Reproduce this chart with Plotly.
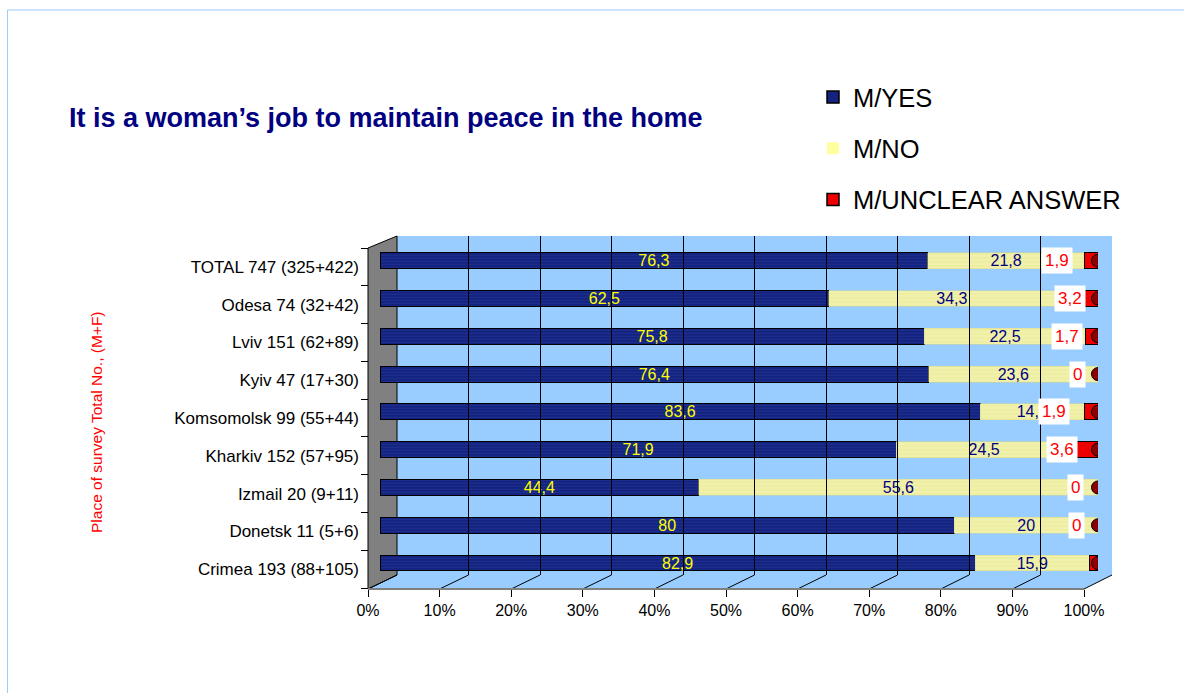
import plotly.graph_objects as go

# ---------------- data ----------------
categories = ["TOTAL 747 (325+422)", "Odesa 74 (32+42)", "Lviv 151 (62+89)",
              "Kyiv 47 (17+30)", "Komsomolsk 99 (55+44)", "Kharkiv 152 (57+95)",
              "Izmail 20 (9+11)", "Donetsk 11 (5+6)", "Crimea 193 (88+105)"]
m_yes = [76.3, 62.5, 75.8, 76.4, 83.6, 71.9, 44.4, 80.0, 82.9]
m_no = [21.8, 34.3, 22.5, 23.6, 14.5, 24.5, 55.6, 20.0, 15.9]
m_unclear = [1.9, 3.2, 1.7, 0.0, 1.9, 3.6, 0.0, 0.0, 1.2]
series_names = ["M/YES", "M/NO", "M/UNCLEAR ANSWER"]
x_tick_vals = [0, 10, 20, 30, 40, 50, 60, 70, 80, 90, 100]
x_tick_text = [f"{v}%" for v in x_tick_vals]

title_text = "It is a woman’s job to maintain peace in the home"
y_title_text = "Place of survey Total No., (M+F)"

# ---------------- style ----------------
W, H = 1184, 693
FONT = "Liberation Sans, Arial, sans-serif"
NAVY = "#13237f"
NAVY_STRIPE = "#2d3d9d"
YELLOW = "#eeeea2"
YELLOW_STRIPE = "#fafacc"
RED = "#ee0000"
DARK_RED = "#8b0000"
WALL = "#99ccff"
GRAY = "#808080"
# horizontal pixel shifts of the red value labels (right edge relative to bar end)
unclear_label_shift = [-25, -12, -15, -12, -28, -20, -14, -13, -4]


def px(x):
    return x / W


def py(y):
    return 1 - y / H


def fmt(v):
    return f"{v:g}".replace(".", ",")


# geometry of the pseudo-3D frame (pixels)
FRONT_X = (368, 1084)     # front axis 0%..100%
BACK_X = (397, 1112)      # back wall 0%..100%
BAR_X = (380, 1098)       # bars 0%..100%
FRONT_Y = 589
BACK_Y = 575
WALL_TOP_BACK = 236
WALL_TOP_FRONT = 248
LABEL_BAND = (248, 588)
BAR_BAND = (241.8, 581.9)

cat_order = categories[::-1]

fig = go.Figure()

# bars
fig.add_trace(go.Bar(
    y=categories, x=m_yes, orientation="h", name=series_names[0],
    xaxis="x", yaxis="y2", showlegend=False,
    marker=dict(color=NAVY, line=dict(color="black", width=1),
                pattern=dict(shape="-", fgcolor=NAVY_STRIPE, size=3, solidity=0.35)),
    text=[fmt(v) for v in m_yes], textposition="inside", insidetextanchor="middle",
    textangle=0, constraintext="none",
    textfont=dict(color="#ffff00", size=16, family=FONT),
))
fig.add_trace(go.Bar(
    y=categories, x=m_no, orientation="h", name=series_names[1],
    xaxis="x", yaxis="y2", showlegend=False,
    marker=dict(color=YELLOW, line=dict(color="#d8d890", width=0.5),
                pattern=dict(shape="-", fgcolor=YELLOW_STRIPE, size=4, solidity=0.3)),
    text=[fmt(v) for v in m_no], textposition="inside", insidetextanchor="middle",
    textangle=0, constraintext="none",
    textfont=dict(color="#000080", size=16, family=FONT),
))
fig.add_trace(go.Bar(
    y=categories, x=m_unclear, orientation="h", name=series_names[2],
    xaxis="x", yaxis="y2", showlegend=False,
    marker=dict(color=RED, line=dict(color="black", width=1)),
    textposition="none",
))

# end caps of the cylinders
totals = [a + b + c for a, b, c in zip(m_yes, m_no, m_unclear)]
fig.add_trace(go.Scatter(
    x=totals, y=categories, xaxis="x", yaxis="y2", mode="markers", showlegend=False,
    marker=dict(symbol="circle", size=13, color=DARK_RED, line=dict(color="black", width=1)),
    hoverinfo="skip",
))

# invisible carriers for the front axis and back-wall grid
fig.add_trace(go.Scatter(x=[0] * len(categories), y=categories, xaxis="x2", yaxis="y",
                         mode="markers", marker=dict(opacity=0), showlegend=False,
                         hoverinfo="skip"))
fig.add_trace(go.Scatter(x=[0, 100], y=[0, 1], xaxis="x3", yaxis="y3",
                         mode="markers", marker=dict(opacity=0), showlegend=False,
                         hoverinfo="skip"))

# legend entries
legend_cols = [(NAVY, "black", 1.5), ("#ffffa0", "#ffffa0", 0), (RED, "black", 1.5)]
for i, (name, (c, lc, lw)) in enumerate(zip(series_names, legend_cols)):
    fig.add_trace(go.Bar(x=[None], y=[None], name=name, xaxis="x", yaxis="y2",
                         orientation="h", legendgroup=f"g{i}",
                         marker=dict(color=c, line=dict(color=lc, width=lw))))

# ---------------- shapes (3D frame) ----------------
shapes = []
shapes.append(dict(type="rect", xref="paper", yref="paper", x0=px(7.5), x1=1.05,
                   y0=-0.05, y1=py(10), line=dict(color="#99ccff", width=1),
                   fillcolor="rgba(0,0,0,0)", layer="below"))
shapes.append(dict(type="rect", xref="paper", yref="paper",
                   x0=px(BACK_X[0]), x1=px(BACK_X[1]), y0=py(BACK_Y), y1=py(WALL_TOP_BACK),
                   fillcolor=WALL, line=dict(width=0), layer="below"))
floor_path = (f"M {px(FRONT_X[0])} {py(FRONT_Y)} L {px(FRONT_X[1])} {py(FRONT_Y)} "
              f"L {px(BACK_X[1])} {py(BACK_Y)} L {px(BACK_X[0])} {py(BACK_Y)} Z")
shapes.append(dict(type="path", xref="paper", yref="paper", path=floor_path,
                   fillcolor=WALL, line=dict(width=0), layer="below"))
side_path = (f"M {px(FRONT_X[0])} {py(WALL_TOP_FRONT)} L {px(BACK_X[0])} {py(WALL_TOP_BACK)} "
             f"L {px(BACK_X[0])} {py(BACK_Y)} L {px(FRONT_X[0])} {py(FRONT_Y)} Z")
shapes.append(dict(type="path", xref="paper", yref="paper", path=side_path,
                   fillcolor=GRAY, line=dict(color="black", width=1), layer="below"))
for v in x_tick_vals:
    fx = FRONT_X[0] + v / 100 * (FRONT_X[1] - FRONT_X[0])
    bx = BACK_X[0] + v / 100 * (BACK_X[1] - BACK_X[0])
    shapes.append(dict(type="line", xref="paper", yref="paper",
                       x0=px(fx), y0=py(FRONT_Y), x1=px(bx), y1=py(BACK_Y),
                       line=dict(color="black", width=1), layer="below"))

# ---------------- annotations ----------------
annotations = [
    dict(text=f"<b>{title_text}</b>", xref="paper", yref="paper", x=px(67), y=py(118),
         xanchor="left", yanchor="middle", showarrow=False,
         font=dict(size=27, color="#000080", family=FONT)),
    dict(text=y_title_text, xref="paper", yref="paper", x=px(97), y=py(422),
         xanchor="center", yanchor="middle", textangle=-90, showarrow=False,
         font=dict(size=15.5, color="#ff0000", family=FONT)),
]
for cat, v, t, sh in zip(categories, m_unclear, totals, unclear_label_shift):
    annotations.append(dict(text=fmt(v), x=t, y=cat, xref="x", yref="y2",
                            xanchor="right", yanchor="middle", xshift=sh, showarrow=False,
                            bgcolor="white", borderpad=3,
                            font=dict(size=17, color="#ff0000", family=FONT)))

fig.update_layout(
    width=W, height=H, autosize=False,
    margin=dict(l=0, r=0, t=0, b=0, pad=0, autoexpand=False),
    paper_bgcolor="white", plot_bgcolor="rgba(0,0,0,0)",
    barmode="stack", bargap=0.58, hovermode=False,
    font=dict(family=FONT, color="black"),
    showlegend=True,
    legend=dict(x=px(813), y=py(74), xanchor="left", yanchor="top",
                font=dict(size=25.5, family=FONT, color="black"),
                tracegroupgap=15, bgcolor="rgba(0,0,0,0)", traceorder="grouped"),
    xaxis=dict(domain=[px(BAR_X[0]), px(BAR_X[1])], range=[0, 100], anchor="y2",
               visible=False, fixedrange=True),
    yaxis2=dict(domain=[py(BAR_BAND[1]), py(BAR_BAND[0])], anchor="x",
                type="category", categoryorder="array", categoryarray=cat_order,
                range=[-0.5, len(categories) - 0.5], visible=False, fixedrange=True),
    xaxis2=dict(domain=[px(FRONT_X[0]), px(FRONT_X[1])], range=[0, 100],
                anchor="free", position=py(FRONT_Y),
                tickmode="array", tickvals=x_tick_vals, ticktext=x_tick_text,
                ticks="outside", ticklen=7, tickcolor="black", tickwidth=1,
                showline=True, linecolor=GRAY, linewidth=1.5,
                showgrid=False, zeroline=False, automargin=False,
                tickfont=dict(size=16, color="black", family=FONT), fixedrange=True),
    yaxis=dict(domain=[py(LABEL_BAND[1]), py(LABEL_BAND[0])], anchor="free",
               position=px(FRONT_X[0]), type="category", categoryorder="array",
               categoryarray=cat_order, range=[-0.5, len(categories) - 0.5],
               ticks="outside", tickson="boundaries", ticklen=7, tickcolor="black",
               ticklabelstandoff=9,
               showline=False, showgrid=False, zeroline=False, automargin=False,
               tickfont=dict(size=17, color="black", family=FONT), fixedrange=True),
    xaxis3=dict(domain=[px(BACK_X[0]), px(BACK_X[1])], range=[0, 100], anchor="y3",
                showgrid=True, gridcolor="black", gridwidth=1, tick0=0, dtick=10,
                showticklabels=False, ticks="", zeroline=False, showline=False,
                fixedrange=True),
    yaxis3=dict(domain=[py(BACK_Y), py(WALL_TOP_BACK)], anchor="x3", range=[0, 1],
                visible=False, fixedrange=True),
    shapes=shapes,
    annotations=annotations,
)

fig.write_html("out.html", config={"displayModeBar": False},
               post_script="document.body.style.margin='0px';")
